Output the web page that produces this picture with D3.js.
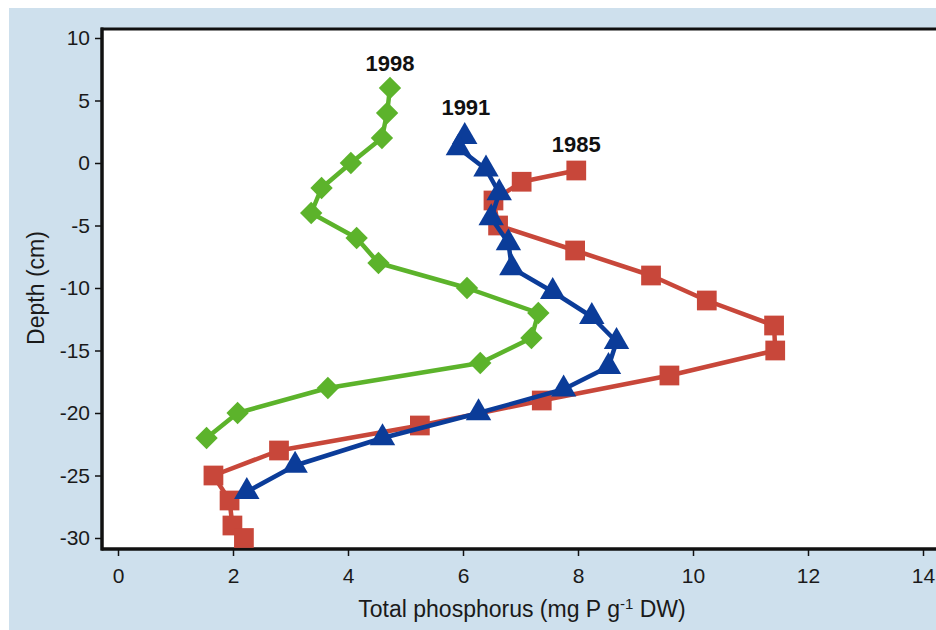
<!DOCTYPE html>
<html>
<head>
<meta charset="utf-8">
<script src="https://cdn.jsdelivr.net/npm/d3@7"></script>
<style>
  html, body { margin: 0; padding: 0; background: #fff; }
  svg { display: block; }
</style>
</head>
<body>
<div id="chart"></div>
<script>
// Sediment phosphorus profiles, one line per coring year
const depth1985 = [-0.6, -1.5, -3, -5, -7, -9, -11, -13, -15, -17, -19, -21, -23, -25, -27, -29, -30];
const tp1985 = [7.97, 7.02, 6.53, 6.61, 7.95, 9.27, 10.24, 11.41, 11.43, 9.59, 7.37, 5.25, 2.8, 1.66, 1.94, 1.99, 2.19];

const depth1991 = [2.1, 1.2, -0.5, -2.4, -4.4, -6.4, -8.4, -10.3, -12.3, -14.3, -16.3, -18.1, -20, -22, -24.2, -26.3];
const tp1991 = [6.03, 5.92, 6.4, 6.63, 6.49, 6.79, 6.85, 7.56, 8.24, 8.67, 8.53, 7.75, 6.27, 4.6, 3.08, 2.24];

const depth1998 = [6, 4, 2, 0, -2, -4, -6, -8, -10, -12, -14, -16, -18, -20, -22];
const tp1998 = [4.73, 4.68, 4.59, 4.05, 3.54, 3.36, 4.15, 4.53, 6.07, 7.31, 7.19, 6.3, 3.65, 2.08, 1.54];

const xTicks = [0, 2, 4, 6, 8, 10, 12, 14];
const yTicks = [10, 5, 0, -5, -10, -15, -20, -25, -30];

(function () {
  const W = 936, H = 630;
  const FONT = "'Liberation Sans', Arial, Helvetica, sans-serif";

  const svg = d3.select("#chart").append("svg")
    .attr("width", W)
    .attr("height", H);

  // light blue panel behind the plot
  svg.append("rect")
    .attr("x", 9).attr("y", 8)
    .attr("width", W).attr("height", H)
    .attr("fill", "#cee0ed");

  // plot frame bounds
  const left = 102, top = 29, bottom = 549, right = 960;

  const x = d3.scaleLinear().domain([0, 14]).range([118, 923]);
  const y = d3.scaleLinear().domain([-30, 10]).range([538, 38]);

  svg.append("rect")
    .attr("x", left).attr("y", top)
    .attr("width", right - left).attr("height", bottom - top)
    .attr("fill", "#fff")
    .attr("stroke", "#111")
    .attr("stroke-width", 3);

  // axes
  const yAxis = svg.append("g")
    .attr("transform", `translate(${left},0)`)
    .call(d3.axisLeft(y).tickValues(yTicks).tickSize(7).tickPadding(5).tickFormat(d => d));
  const xAxis = svg.append("g")
    .attr("transform", `translate(0,${bottom})`)
    .call(d3.axisBottom(x).tickValues(xTicks).tickSize(7).tickPadding(12).tickFormat(d => d));

  [yAxis, xAxis].forEach(g => {
    g.select(".domain").remove();
    g.selectAll(".tick line").attr("stroke", "#111").attr("stroke-width", 1.5);
    g.selectAll(".tick text")
      .attr("font-family", FONT)
      .attr("font-size", 21)
      .attr("fill", "#1a1a1a");
  });

  // axis lines on top of the ticks
  svg.append("line")
    .attr("x1", left).attr("x2", left).attr("y1", top - 1.5).attr("y2", bottom + 1.5)
    .attr("stroke", "#111").attr("stroke-width", 3);
  svg.append("line")
    .attr("x1", left).attr("x2", right).attr("y1", bottom).attr("y2", bottom)
    .attr("stroke", "#111").attr("stroke-width", 3);

  // axis titles
  svg.append("text")
    .attr("transform", `translate(44,${(38 + 538) / 2}) rotate(-90)`)
    .attr("text-anchor", "middle")
    .attr("font-family", FONT)
    .attr("font-size", 23)
    .attr("fill", "#1a1a1a")
    .text("Depth (cm)");

  const xTitle = svg.append("text")
    .attr("x", 522).attr("y", 617)
    .attr("text-anchor", "middle")
    .attr("font-family", FONT)
    .attr("font-size", 23)
    .attr("fill", "#1a1a1a");
  xTitle.append("tspan").text("Total phosphorus (mg P g");
  xTitle.append("tspan").attr("dy", -8).attr("font-size", 15).text("-1");
  xTitle.append("tspan").attr("dy", 8).text(" DW)");

  // series
  const series = [
    { name: "1985", depth: depth1985, tp: tp1985, color: "#c8473a",
      symbol: d3.symbol(d3.symbolSquare, 390), rotate: 0, label: [7.97, 1.5] },
    { name: "1991", depth: depth1991, tp: tp1991, color: "#0b3c99",
      symbol: d3.symbol(d3.symbolTriangle, 280), rotate: 0, label: [6.05, 4.5] },
    { name: "1998", depth: depth1998, tp: tp1998, color: "#5cb32b",
      symbol: d3.symbol(d3.symbolSquare, 250), rotate: 45, label: [4.73, 8] }
  ];

  const line = d3.line()
    .x(d => x(d[0]))
    .y(d => y(d[1]));

  series.forEach(s => {
    const pts = s.tp.map((v, i) => [v, s.depth[i]]);
    const g = svg.append("g");

    g.append("path")
      .datum(pts)
      .attr("d", line)
      .attr("fill", "none")
      .attr("stroke", s.color)
      .attr("stroke-width", 4.5)
      .attr("stroke-linejoin", "round");

    g.selectAll("path.mark")
      .data(pts)
      .join("path")
      .attr("class", "mark")
      .attr("d", s.symbol)
      .attr("transform", d => `translate(${x(d[0])},${y(d[1])}) rotate(${s.rotate})`)
      .attr("fill", s.color);

    svg.append("text")
      .attr("x", x(s.label[0]))
      .attr("y", y(s.label[1]) + 8)
      .attr("text-anchor", "middle")
      .attr("font-family", FONT)
      .attr("font-size", 22)
      .attr("font-weight", "bold")
      .attr("fill", "#111")
      .text(s.name);
  });
})();
</script>
</body>
</html>
